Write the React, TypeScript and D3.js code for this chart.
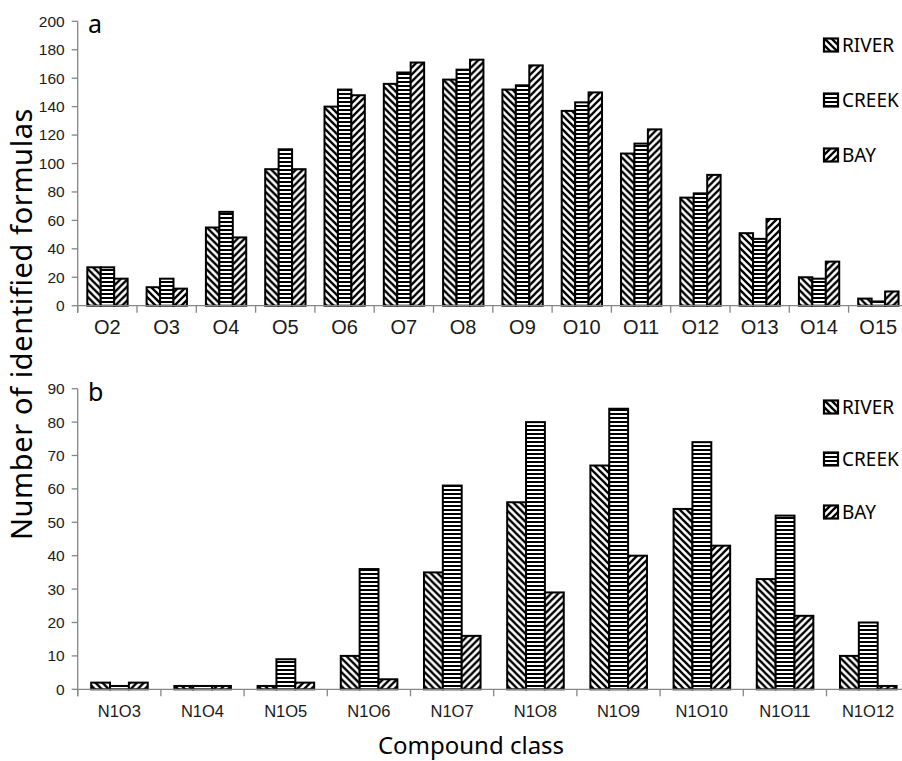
import React from "react";
import * as d3 from "d3";

// Oxygen-only classes (panel a)
const oClasses = ["O2", "O3", "O4", "O5", "O6", "O7", "O8", "O9", "O10", "O11", "O12", "O13", "O14", "O15"];
const oRiver = [27, 13, 55, 96, 140, 156, 159, 152, 137, 107, 76, 51, 20, 5];
const oCreek = [27, 19, 66, 110, 152, 164, 166, 155, 143, 114, 79, 47, 19, 3];
const oBay = [19, 12, 48, 96, 148, 171, 173, 169, 150, 124, 92, 61, 31, 10];
const oTicks = [0, 20, 40, 60, 80, 100, 120, 140, 160, 180, 200];

// N1-containing classes (panel b)
const nClasses = ["N1O3", "N1O4", "N1O5", "N1O6", "N1O7", "N1O8", "N1O9", "N1O10", "N1O11", "N1O12"];
const nRiver = [2, 1, 1, 10, 35, 56, 67, 54, 33, 10];
const nCreek = [1, 1, 9, 36, 61, 80, 84, 74, 52, 20];
const nBay = [2, 1, 2, 3, 16, 29, 40, 43, 22, 1];
const nTicks = [0, 10, 20, 30, 40, 50, 60, 70, 80, 90];

const seriesNames = ["RIVER", "CREEK", "BAY"];
const patternIds = ["pat-river", "pat-creek", "pat-bay"];

const AXIS = "#868686";
const TEXT = "#1a1a1a";
const SANS = "'Noto Sans', 'Open Sans', sans-serif";
const ARIAL = "'Liberation Sans', Arial, sans-serif";

type PanelProps = {
  letter: string;
  classes: string[];
  series: number[][];
  ticks: number[];
  yMax: number;
  top: number;
  bottom: number;
  step: number;
  catFont: number;
  catY: number;
  legendYs: number[];
};

const X0 = 77.7;

function Panel({ letter, classes, series, ticks, yMax, top, bottom, step, catFont, catY, legendYs }: PanelProps) {
  const x = d3
    .scaleBand<string>()
    .domain(classes)
    .range([X0, X0 + step * classes.length])
    .padding(0);
  const y = d3.scaleLinear().domain([0, yMax]).range([bottom, top]);
  const bw = x.bandwidth();
  const inner = d3
    .scaleBand<string>()
    .domain(seriesNames)
    .range([bw * 0.162, bw * 0.842])
    .padding(0);

  const boundaries = classes.map((c) => x(c) as number).concat([x.range()[1]]);

  return (
    <g>
      {/* bars */}
      {classes.map((c, i) => (
        <g key={c} transform={`translate(${x(c)},0)`}>
          {seriesNames.map((s, k) => {
            const v = series[k][i];
            return (
              <rect
                key={s}
                x={inner(s)}
                y={y(v)}
                width={inner.bandwidth()}
                height={bottom - y(v)}
                fill={`url(#${patternIds[k]})`}
                stroke="#000"
                strokeWidth={2}
              />
            );
          })}
        </g>
      ))}
      {/* y axis */}
      <line x1={X0} x2={X0} y1={top} y2={bottom + 7} stroke={AXIS} strokeWidth={1.3} />
      {ticks.map((t) => (
        <g key={t}>
          <line x1={X0 - 6} x2={X0} y1={y(t)} y2={y(t)} stroke={AXIS} strokeWidth={1.3} />
          <text
            x={X0 - 13}
            y={y(t)}
            dy="0.35em"
            textAnchor="end"
            fontFamily={ARIAL}
            fontSize={15.5}
            fill={TEXT}
          >
            {t}
          </text>
        </g>
      ))}
      {/* x axis */}
      <line x1={X0} x2={x.range()[1]} y1={bottom} y2={bottom} stroke={AXIS} strokeWidth={1.3} />
      {boundaries.map((b, i) => (
        <line key={i} x1={b} x2={b} y1={bottom} y2={bottom + 7} stroke={AXIS} strokeWidth={1.3} />
      ))}
      {classes.map((c) => (
        <text
          key={c}
          x={(x(c) as number) + bw / 2}
          y={catY}
          dy="0.35em"
          textAnchor="middle"
          fontFamily={ARIAL}
          fontSize={catFont}
          fill={TEXT}
        >
          {c}
        </text>
      ))}
      {/* panel letter */}
      <text x={88} y={top + 12} fontFamily={SANS} fontSize={25} fill="#000">
        {letter}
      </text>
      {/* legend */}
      {seriesNames.map((s, k) => (
        <g key={s} transform={`translate(824,${legendYs[k]})`}>
          <rect x={0} y={-6.5} width={14} height={13} fill={`url(#${patternIds[k]})`} stroke="#000" strokeWidth={2.2} />
          <text x={18} y={0} dy="0.36em" fontFamily={SANS} fontSize={19} fill="#000">
            {s}
          </text>
        </g>
      ))}
    </g>
  );
}

export default function App() {
  return (
    <svg width={902} height={761} style={{ display: "block", position: "absolute", left: 0, top: 0 }}>
      <defs>
        <pattern id="pat-river" patternUnits="userSpaceOnUse" width={7} height={7}>
          <rect width={7} height={7} fill="#fff" />
          <path d="M0,0 L7,7 M-3.5,3.5 L3.5,10.5 M3.5,-3.5 L10.5,3.5" stroke="#000" strokeWidth={2.3} />
        </pattern>
        <pattern id="pat-creek" patternUnits="userSpaceOnUse" width={8} height={4}>
          <rect width={8} height={4} fill="#fff" />
          <rect x={0} y={1} width={8} height={2} fill="#000" />
        </pattern>
        <pattern id="pat-bay" patternUnits="userSpaceOnUse" width={7} height={7}>
          <rect width={7} height={7} fill="#fff" />
          <path d="M0,7 L7,0 M-3.5,3.5 L3.5,-3.5 M3.5,10.5 L10.5,3.5" stroke="#000" strokeWidth={2.3} />
        </pattern>
      </defs>
      <rect width={902} height={761} fill="#fff" />
      <Panel
        letter="a"
        classes={oClasses}
        series={[oRiver, oCreek, oBay]}
        ticks={oTicks}
        yMax={200}
        top={21.3}
        bottom={305.7}
        step={59.3}
        catFont={20}
        catY={327}
        legendYs={[45, 100, 155]}
      />
      <Panel
        letter="b"
        classes={nClasses}
        series={[nRiver, nCreek, nBay]}
        ticks={nTicks}
        yMax={90}
        top={388.7}
        bottom={689.3}
        step={83.2}
        catFont={16.5}
        catY={711}
        legendYs={[407, 459, 512]}
      />
      <text
        transform="translate(22,324) rotate(-90)"
        dy="0.35em"
        textAnchor="middle"
        fontFamily={SANS}
        fontSize={29}
        letterSpacing={0.6}
        fill="#000"
      >
        Number of identified formulas
      </text>
      <text x={471} y={746} dy="0.35em" textAnchor="middle" fontFamily={SANS} fontSize={24} fill="#000">
        Compound class
      </text>
    </svg>
  );
}
